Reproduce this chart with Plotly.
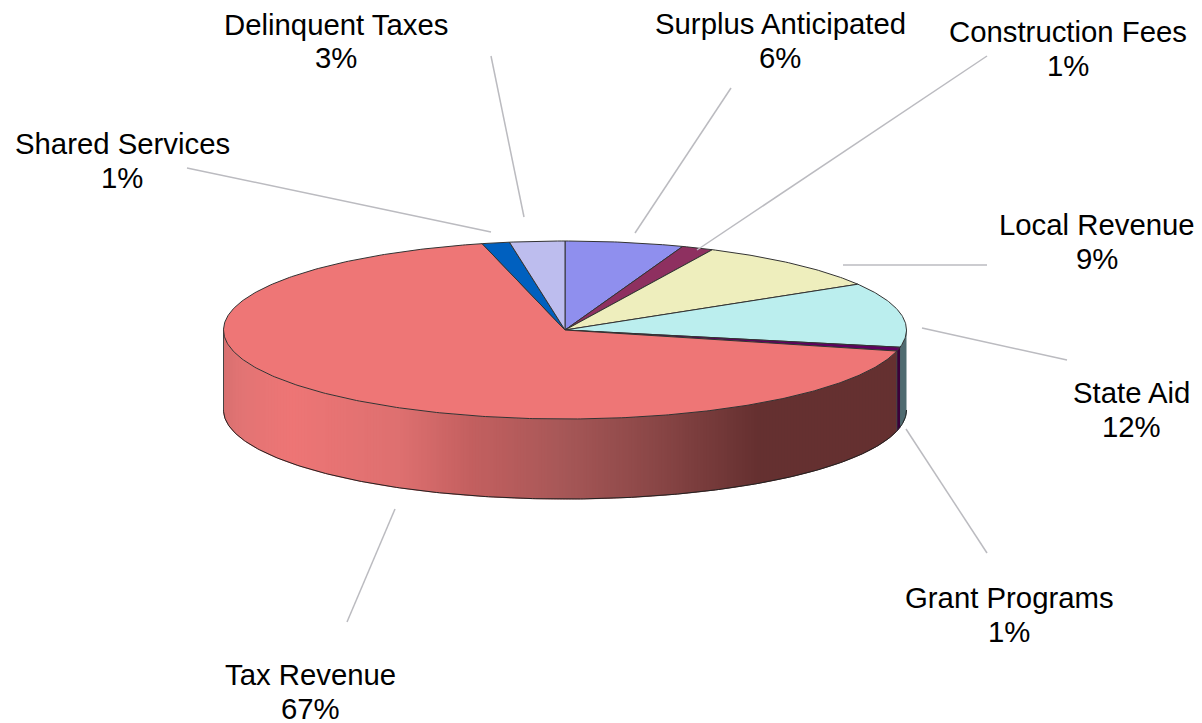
import numpy as np
import plotly.graph_objects as go

# Data, clockwise from twelve o'clock
categories = ["Surplus Anticipated", "Construction Fees", "Local Revenue", "State Aid",
              "Grant Programs", "Tax Revenue", "Shared Services", "Delinquent Taxes"]
values = [5.6, 1.5, 9.3, 11.7, 0.7, 67.3, 1.3, 2.6]
pct_labels = ["6%", "1%", "9%", "12%", "1%", "67%", "1%", "3%"]
top_colors = ["#8F8FEE", "#8E3060", "#EEEEBD", "#BBEEEE", "#600060", "#EE7676", "#0060BF", "#BDBDEE"]
side_colors = ["#5F5F9E", "#5F2040", "#9E9E7E", "#4F6B70", "#3A003A", "#653030", "#004080", "#7E7E9E"]

# Layout of the drawing, in pixels
CX, CY, RX, RY, DEPTH = 565.0, 330.0, 341.5, 89.0, 80.0
label_pos = {
    "Surplus Anticipated": (780, 23, 57),
    "Construction Fees": (1068, 31, 65),
    "Local Revenue": (1097, 224, 258),
    "State Aid": (1131, 392, 426),
    "Grant Programs": (1009, 597, 631),
    "Tax Revenue": (310, 674, 708),
    "Shared Services": (122, 143, 177),
    "Delinquent Taxes": (336, 24, 57),
}
leaders = {
    "Surplus Anticipated": ((731, 88), (635, 233)),
    "Construction Fees": ((987, 56), (697, 250)),
    "Local Revenue": ((987, 265), (843, 265)),
    "State Aid": ((1067, 360), (922, 328)),
    "Grant Programs": ((987, 553), (906, 429)),
    "Tax Revenue": ((347, 622), (395, 509)),
    "Shared Services": ((187, 168), (491, 232)),
    "Delinquent Taxes": ((491, 56), (524, 217)),
}
grad_x = [223, 240, 290, 400, 470, 560, 650, 760, 910]
grad_rgb = [(216, 112, 112), (226, 116, 116), (238, 118, 118), (222, 112, 112), (196, 96, 96),
            (168, 88, 88), (140, 72, 72), (101, 48, 48), (101, 48, 48)]


def px(theta):
    return CX + RX * np.sin(theta)


def py(theta):
    return CY - RY * np.cos(theta)


def arc(a, b, n=None):
    n = n or max(3, int(abs(b - a) / 0.01))
    return np.linspace(a, b, n)


fig = go.Figure()


def poly(x, y, fill, line=None, width=1.0):
    fig.add_trace(go.Scatter(
        x=x, y=y, mode="lines", fill="toself", fillcolor=fill,
        line=dict(color=line or fill, width=width), hoverinfo="skip", showlegend=False))


fractions = np.cumsum([0] + values) / sum(values)
angles = fractions * 2 * np.pi
HALF, THREE_HALF = np.pi / 2, 3 * np.pi / 2

# Side wall: one polygon per visible slice, Tax Revenue shaded strip by strip
for i, cat in enumerate(categories):
    a, b = max(angles[i], HALF), min(angles[i + 1], THREE_HALF)
    if a >= b:
        continue
    if cat == "Tax Revenue":
        xs = np.arange(CX - RX, px(a), 3.0)
        edges = np.arcsin(np.clip((xs - CX) / RX, -1, 1))
        edges = np.pi - edges  # lower half of the ellipse
        edges = np.concatenate(([a], edges[::-1]))
        for s in range(len(edges) - 1):
            t = arc(edges[s], edges[s + 1], 4)
            xm = px(t.mean())
            rgb = [np.interp(xm, grad_x, [c[k] for c in grad_rgb]) for k in range(3)]
            col = "rgb(%d,%d,%d)" % tuple(rgb)
            poly(np.r_[px(t), px(t[::-1])], np.r_[py(t), py(t[::-1]) + DEPTH], col)
    else:
        t = arc(a, b)
        poly(np.r_[px(t), px(t[::-1])], np.r_[py(t), py(t[::-1]) + DEPTH], side_colors[i])

# Outline of the wall
t = arc(HALF, THREE_HALF)
fig.add_trace(go.Scatter(x=px(t), y=py(t) + DEPTH, mode="lines",
                         line=dict(color="#222222", width=1), hoverinfo="skip", showlegend=False))
for th in (angles[5], THREE_HALF):
    fig.add_trace(go.Scatter(x=[px(th), px(th)], y=[py(th), py(th) + DEPTH], mode="lines",
                             line=dict(color="#444444", width=1), hoverinfo="skip", showlegend=False))

# Top face
for i in range(len(categories)):
    t = arc(angles[i], angles[i + 1])
    poly(np.r_[CX, px(t), CX], np.r_[CY, py(t), CY], top_colors[i], line="#333333", width=1)

# Leader lines
for cat in categories:
    (x0, y0), (x1, y1) = leaders[cat]
    fig.add_trace(go.Scatter(x=[x0, x1], y=[y0, y1], mode="lines",
                             line=dict(color="#BBBBC0", width=1.5), hoverinfo="skip", showlegend=False))

# Labels
for cat, pct in zip(categories, pct_labels):
    x, y1, y2 = label_pos[cat]
    for txt, y in ((cat, y1), (pct, y2)):
        fig.add_annotation(x=x, y=y, text=txt, showarrow=False, xanchor="center", yanchor="middle",
                           font=dict(family="Liberation Sans", size=29.33, color="#000000"))

fig.update_layout(
    width=1202, height=723, margin=dict(l=0, r=0, t=0, b=0),
    paper_bgcolor="white", plot_bgcolor="white", showlegend=False,
    xaxis=dict(range=[0, 1202], visible=False, fixedrange=True),
    yaxis=dict(range=[723, 0], visible=False, fixedrange=True),
)
fig.write_html("out.html", config=dict(displayModeBar=False),
               post_script="document.body.style.margin='0';document.documentElement.style.overflow='hidden';")
